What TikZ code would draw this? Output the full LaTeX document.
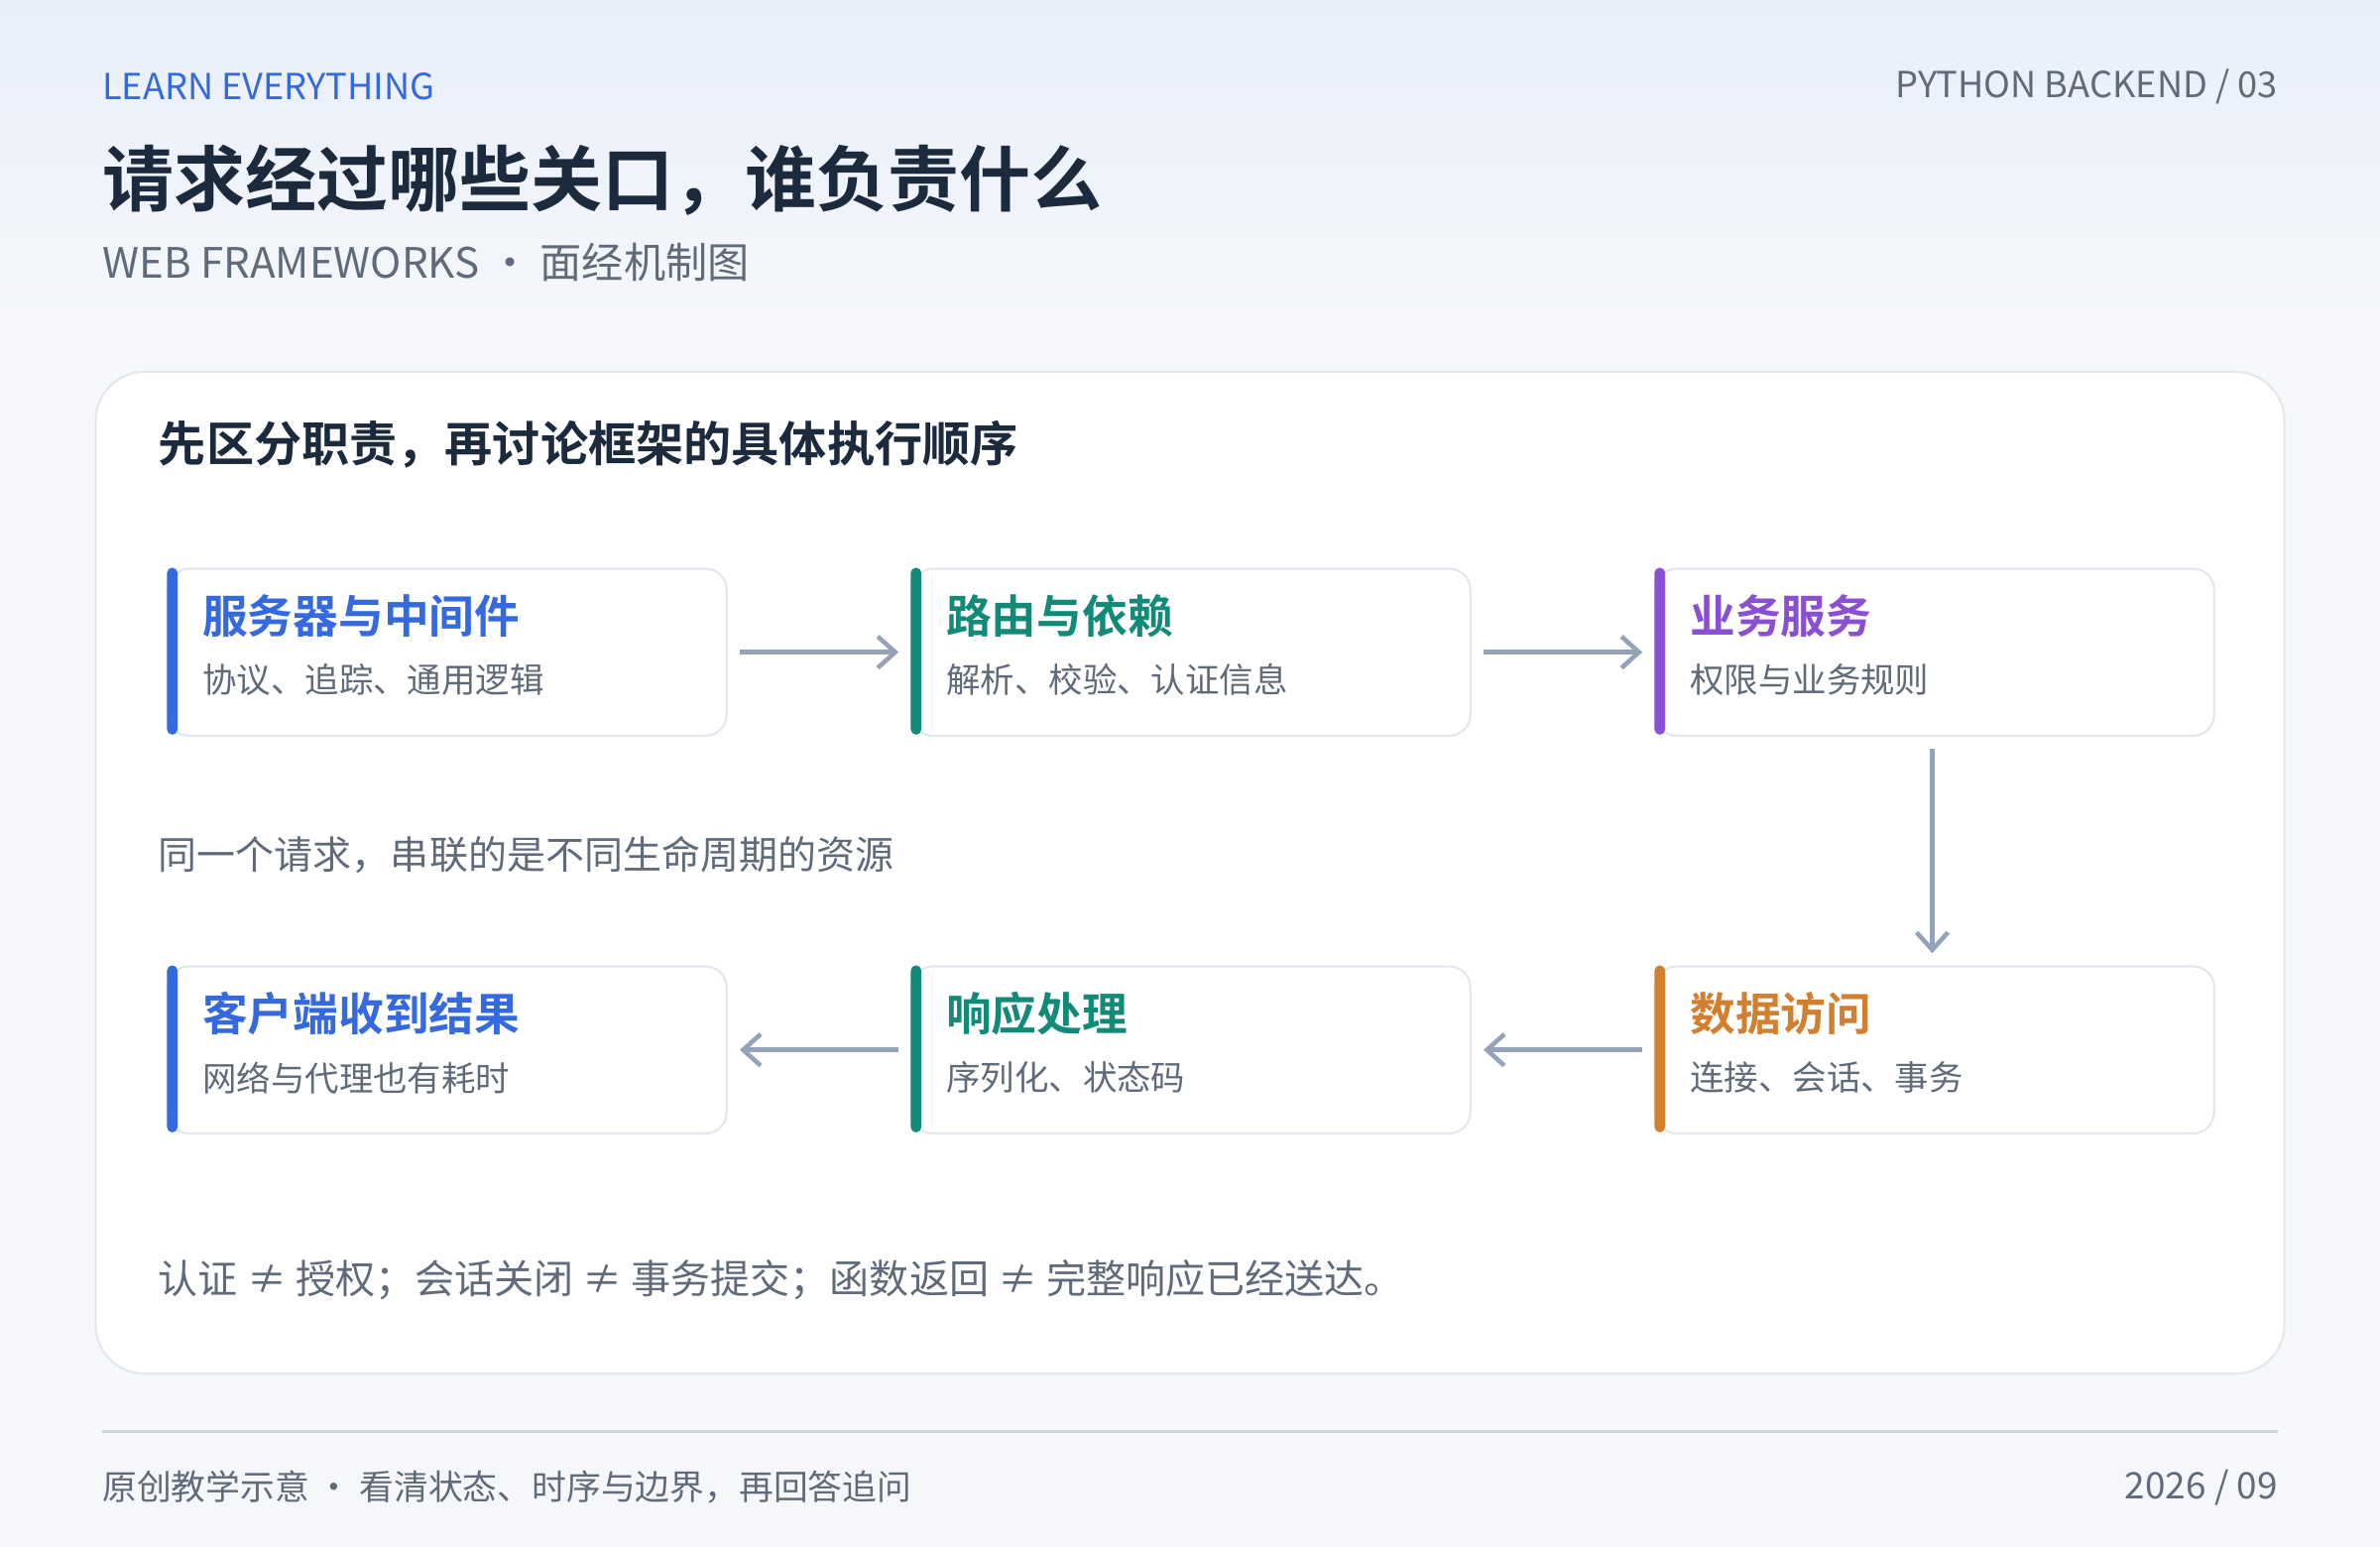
\documentclass[tikz,border=0pt]{standalone}
\usepackage{fontspec}
\setmainfont{Noto Sans CJK SC}
\newfontfamily\cjkb{Noto Sans CJK SC Bold}
\usetikzlibrary{arrows.meta}
\definecolor{bgtop}{HTML}{E8EFFB}
\definecolor{bgbot}{HTML}{F5F7FA}
\definecolor{ink}{HTML}{1B2A3C}
\definecolor{muted}{HTML}{5F6B7A}
\definecolor{cblue}{HTML}{3469DF}
\definecolor{cteal}{HTML}{128A78}
\definecolor{cpurple}{HTML}{8A4FD2}
\definecolor{corange}{HTML}{D27F30}
\definecolor{arr}{HTML}{94A3B8}
\definecolor{bord}{HTML}{E3E7EE}
\begin{document}
\begin{tikzpicture}[x=0.015306cm,y=-0.015306cm,every node/.style={inner sep=0pt},
  box/.style={draw=bord,line width=0.6pt,fill=white,rounded corners=6pt,minimum width=368*0.015306cm,minimum height=110*0.015306cm,inner sep=0pt},
  hd/.style={anchor=west,font=\cjkb\fontsize{13}{16}\selectfont},
  sb/.style={anchor=west,text=muted,font=\fontsize{9.8}{12}\selectfont},
  ar/.style={draw=arr,line width=1.3pt,-{Straight Barb[length=5pt,width=9pt]},shorten <=8*0.015306cm,shorten >=8*0.015306cm}]
\useasboundingbox (0,0) rectangle (1568,1019);
\shade[top color=bgtop,bottom color=bgbot] (0,0) rectangle (1568,210);
\fill[bgbot] (0,210) rectangle (1568,1019);
\node[anchor=west,text=cblue,font=\fontsize{10.3}{12}\selectfont] (t1) at (67,57) {LEARN EVERYTHING};
\node[anchor=east,text=muted,font=\fontsize{10.3}{12}\selectfont] (t2) at (1501,57) {PYTHON BACKEND / 03};
\node[anchor=west,text=ink,font=\cjkb\fontsize{20.5}{24}\selectfont] (t3) at (67,119) {请求经过哪些关口，谁负责什么};
\node[anchor=west,text=muted,font=\fontsize{12}{14}\selectfont] (t4) at (67,173) {WEB FRAMEWORKS · 面经机制图};
\draw[draw=bord,fill=white,rounded corners=14pt,line width=0.6pt] (63,245) rectangle (1505,905);
\node[anchor=west,text=ink,font=\cjkb\fontsize{13.7}{17}\selectfont] (h) at (104,293) {先区分职责，再讨论框架的具体执行顺序};
\foreach \n/\x/\y/\c/\a/\b in {a/110/374/cblue/服务器与中间件/协议、追踪、通用逻辑,
  b/600/374/cteal/路由与依赖/解析、校验、认证信息,
  c/1090/374/cpurple/业务服务/权限与业务规则,
  d/1090/636/corange/数据访问/连接、会话、事务,
  e/600/636/cteal/响应处理/序列化、状态码,
  f/110/636/cblue/客户端收到结果/网络与代理也有耗时}{
  \node[box,anchor=north west] (\n) at (\x,\y) {};
  \fill[\c,rounded corners=1.5pt] (\x,\y) rectangle ++(7,110);
  \node[hd,text=\c] (\n h) at (\x+23,\y+32) {\a};
  \node[sb] (\n s) at (\x+23,\y+74) {\b};
}
\draw[ar] (a) -- (b);
\draw[ar] (b) -- (c);
\draw[ar] (c.south -| 1273,0) -- (d.north -| 1273,0);
\draw[ar] (d) -- (e);
\draw[ar] (e) -- (f);
\node[anchor=west,text=muted,font=\fontsize{11.1}{14}\selectfont] (m) at (104,563) {同一个请求，串联的是不同生命周期的资源};
\node[anchor=west,text=muted,font=\fontsize{11.4}{14}\selectfont] (n) at (104,843) {认证 ≠ 授权；会话关闭 ≠ 事务提交；函数返回 ≠ 完整响应已经送达。};
\draw[bord!80!gray,line width=0.8pt] (67,943) -- (1501,943);
\node[anchor=west,text=muted,font=\fontsize{9.9}{13}\selectfont] (f1) at (67,980) {原创教学示意 · 看清状态、时序与边界，再回答追问};
\node[anchor=east,text=muted,font=\fontsize{10.5}{13}\selectfont] (f2) at (1501,980) {2026 / 09};
\end{tikzpicture}
\end{document}
